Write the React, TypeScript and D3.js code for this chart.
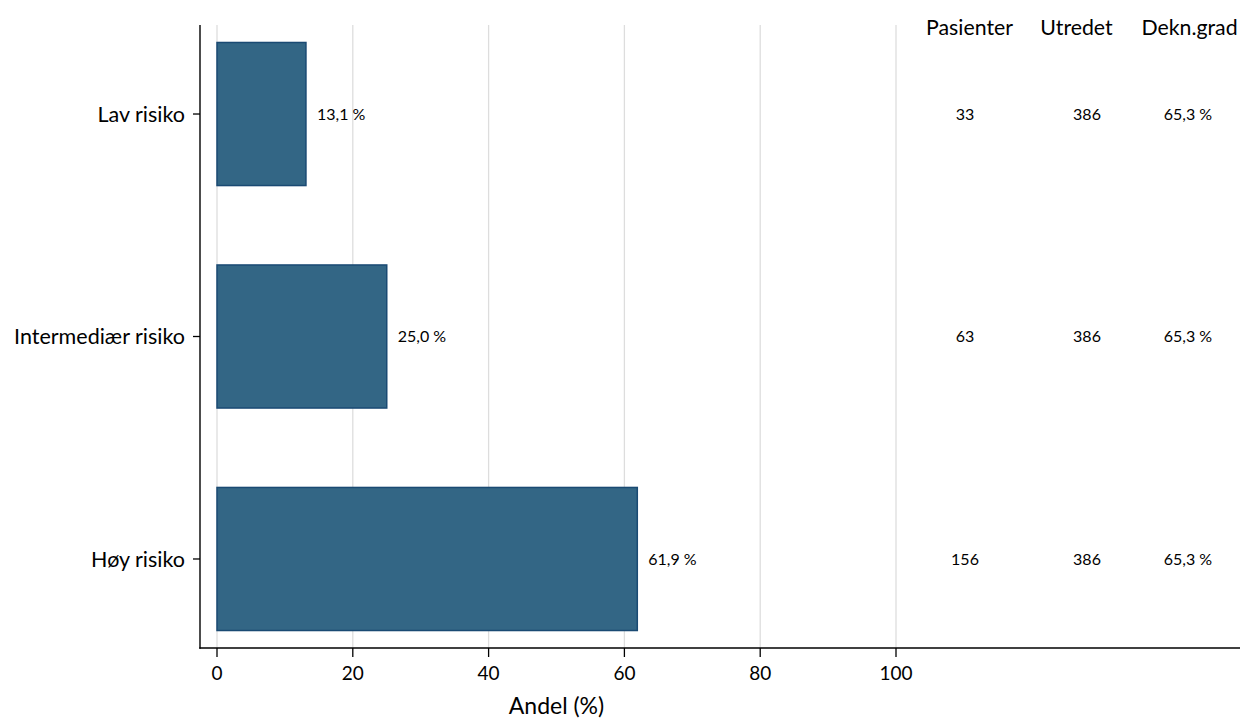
import React from "react";
import * as d3 from "d3";

const categories = ["Lav risiko", "Intermediær risiko", "Høy risiko"];
const shares = [13.1, 25.0, 61.9];
const patients = [33, 63, 156];
const investigated = [386, 386, 386];
const coverage = [65.3, 65.3, 65.3];
const xTicks = [0, 20, 40, 60, 80, 100];
const columnHeaders = ["Pasienter", "Utredet", "Dekn.grad"];

const W = 1241;
const H = 720;
const FONT = "Lato, 'Open Sans', sans-serif";
const fmt = (v: number) => v.toFixed(1).replace(".", ",") + " %";

export default function App() {
  const x = d3.scaleLinear().domain([0, 100]).range([217, 896]);
  const y = d3
    .scaleBand<string>()
    .domain(categories)
    .range([25, 648])
    .paddingInner(0.357)
    .paddingOuter(0.0786);
  const axisY = 648;
  const axisX = 200;
  const headX = [969.5, 1076.5, 1189.5];
  const valX = [965, 1087, 1188];

  return (
    <svg
      width={W}
      height={H}
      style={{ position: "absolute", left: 0, top: 0, background: "#fff" }}
      fontFamily={FONT}
    >
      {xTicks.map((t) => (
        <line key={"g" + t} x1={x(t)} x2={x(t)} y1={25} y2={axisY} stroke="#dddddd" strokeWidth={1.3} />
      ))}
      {categories.map((c, i) => {
        const cy = y(c)! + y.bandwidth() / 2;
        return (
          <g key={c}>
            <rect
              x={x(0)}
              y={y(c)!}
              width={x(shares[i]) - x(0)}
              height={y.bandwidth()}
              fill="#336685"
              stroke="#1a4a73"
              strokeWidth={1.5}
            />
            <text x={x(shares[i]) + 11} y={cy} dy="0.36em" fontSize={16}>
              {fmt(shares[i])}
            </text>
            <line x1={axisX - 7} x2={axisX} y1={cy} y2={cy} stroke="#000" strokeWidth={1.3} />
            <text x={axisX - 15} y={cy} dy="0.36em" textAnchor="end" fontSize={21.5}>
              {c}
            </text>
            <text x={valX[0]} y={cy} dy="0.36em" textAnchor="middle" fontSize={16}>
              {patients[i]}
            </text>
            <text x={valX[1]} y={cy} dy="0.36em" textAnchor="middle" fontSize={16}>
              {investigated[i]}
            </text>
            <text x={valX[2]} y={cy} dy="0.36em" textAnchor="middle" fontSize={16}>
              {fmt(coverage[i])}
            </text>
          </g>
        );
      })}
      {columnHeaders.map((h, i) => (
        <text key={h} x={headX[i]} y={35} textAnchor="middle" fontSize={21.3}>
          {h}
        </text>
      ))}
      <line x1={axisX} x2={axisX} y1={25} y2={axisY + 0.7} stroke="#000" strokeWidth={1.4} />
      <line x1={axisX - 0.7} x2={1240} y1={axisY} y2={axisY} stroke="#000" strokeWidth={1.4} />
      {xTicks.map((t) => (
        <g key={"t" + t}>
          <line x1={x(t)} x2={x(t)} y1={axisY} y2={axisY + 9} stroke="#000" strokeWidth={1.3} />
          <text x={x(t)} y={680} textAnchor="middle" fontSize={19}>
            {t}
          </text>
        </g>
      ))}
      <text x={(x(0) + x(100)) / 2} y={714} textAnchor="middle" fontSize={23}>
        Andel (%)
      </text>
    </svg>
  );
}
